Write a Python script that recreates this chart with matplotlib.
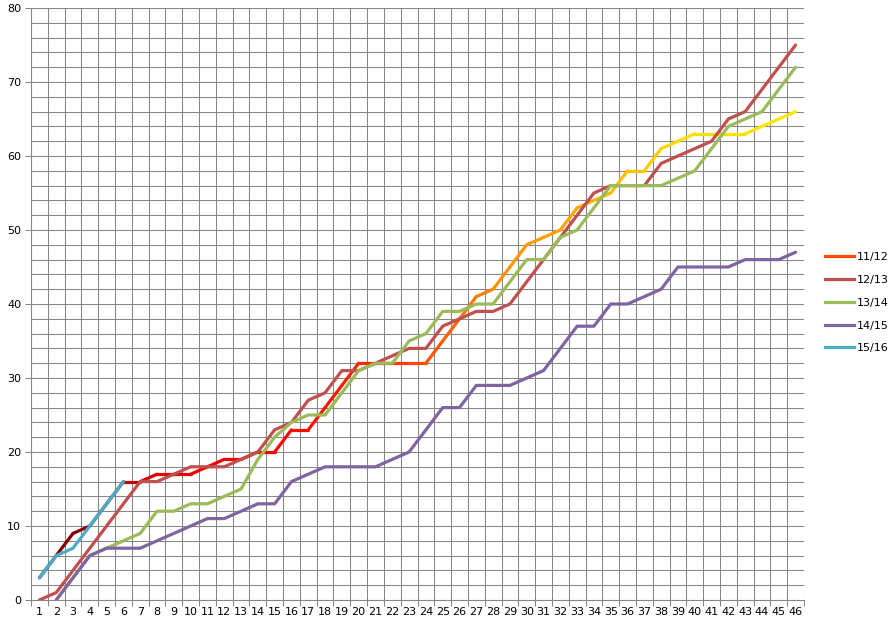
#cumulative points per season, excel style line chart
import numpy as np
import matplotlib.pyplot as plt
from matplotlib.collections import LineCollection
from matplotlib.colors import LinearSegmentedColormap
from matplotlib.lines import Line2D

games = list(range(1, 47))
nan = np.nan

s1112 = [3, 6, 9, 10, 13, 16, 16, 17, 17, 17, 18, 19, 19, 20, 20, 23, 23, 26, 29, 32,
         32, 32, 32, 32, 35, 38, 41, 42, 45, 48, 49, 50, 53, 54, 55, 58, 58, 61, 62, 63,
         63, 63, 63, 64, 65, 66]
s1213 = [0, 1, 4, 7, 10, 13, 16, 16, 17, 18, 18, 18, 19, 20, 23, 24, 27, 28, 31, 31,
         32, 33, 34, 34, 37, 38, 39, 39, 40, 43, 46, 49, 52, 55, 56, 56, 56, 59, 60, 61,
         62, 65, 66, 69, 72, 75]
s1314 = [nan, 0, 3, 6, 7, 8, 9, 12, 12, 13, 13, 14, 15, 19, 22, 24, 25, 25, 28, 31,
         32, 32, 35, 36, 39, 39, 40, 40, 43, 46, 46, 49, 50, 53, 56, 56, 56, 56, 57, 58,
         61, 64, 65, 66, 69, 72]
s1415 = [nan, 0, 3, 6, 7, 7, 7, 8, 9, 10, 11, 11, 12, 13, 13, 16, 17, 18, 18, 18,
         18, 19, 20, 23, 26, 26, 29, 29, 29, 30, 31, 34, 37, 37, 40, 40, 41, 42, 45, 45,
         45, 45, 46, 46, 46, 47]
s1516 = [3, 6, 7, 10, 13, 16]

labels = ['11/12', '12/13', '13/14', '14/15', '15/16']
colors = ['#FF4A00', '#C0504D', '#9BBB59', '#8064A2', '#4BACC6']
grid_c = '#868686'
lw = 2.3

fig = plt.figure(figsize=(8.96, 6.28), dpi=100)
ax = fig.add_axes([31/896, 1-600/628, (804-31)/896, (600-8)/628])

# 11/12 drawn with a colour gradient along the season
grad = LinearSegmentedColormap.from_list('g', [
    (0.0, '#7A0000'), (0.07, '#9A0000'), (0.14, '#E00000'), (0.3, '#FF0000'),
    (0.45, '#FF3000'), (0.52, '#FF5A00'), (0.6, '#FF9000'), (0.7, '#FFA800'),
    (0.78, '#FFC400'), (0.84, '#FFDC00'), (1.0, '#FFEA00')])
x = np.array(games, dtype=float)
y = np.array(s1112, dtype=float)
pts = np.column_stack([x, y]).reshape(-1, 1, 2)
segs = np.concatenate([pts[:-1], pts[1:]], axis=1)
lc = LineCollection(segs, colors=grad((x[:-1] - 1) / 45), linewidths=lw,
                    capstyle='round', joinstyle='round', zorder=3)
ax.add_collection(lc)

for vals, c in zip([s1213, s1314, s1415, s1516], colors[1:]):
    ax.plot(games[:len(vals)], vals, color=c, lw=lw, zorder=3,
            solid_joinstyle='round', solid_capstyle='round')

ax.set_xlim(0.5, 46.5)
ax.set_ylim(0, 80)
ax.set_xticks(games)
ax.set_xticklabels([str(g) for g in games])
ax.set_xticks(np.arange(0.5, 47, 1), minor=True)
ax.set_yticks(range(0, 81, 10))
ax.set_yticks(range(0, 81, 2), minor=True)
ax.tick_params(axis='x', which='major', length=0, pad=5, labelsize=8)
ax.tick_params(axis='x', which='minor', length=4, color=grid_c, width=0.75)
ax.tick_params(axis='y', which='major', length=4, color=grid_c, width=0.75,
               labelsize=8, pad=3)
ax.tick_params(axis='y', which='minor', length=0)
ax.grid(axis='x', which='minor', color=grid_c, lw=0.75)
ax.grid(axis='y', which='both', color=grid_c, lw=0.75)
ax.set_axisbelow(True)
for s in ax.spines.values():
    s.set_visible(False)
for side in ['left', 'bottom']:
    ax.spines[side].set_visible(True)
    ax.spines[side].set_color(grid_c)
    ax.spines[side].set_linewidth(0.75)

handles = [Line2D([], [], color=c, lw=lw) for c in colors]
ax.legend(handles, labels, loc='center left', bbox_to_anchor=(1.022, 0.502),
          frameon=False, fontsize=8, handlelength=2.6, handletextpad=0.2,
          labelspacing=1.15, borderaxespad=0)

plt.savefig('out.png', dpi=100)
